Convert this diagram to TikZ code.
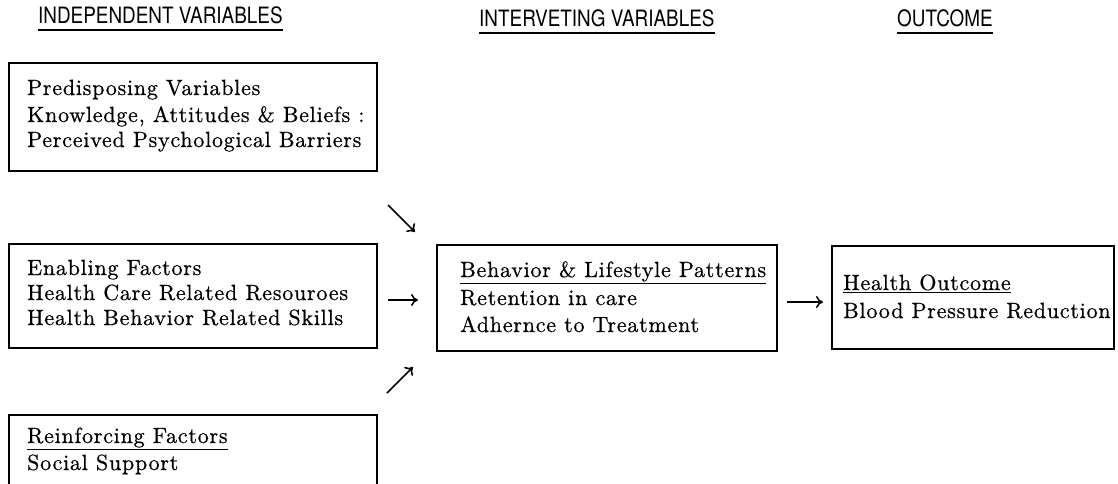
\documentclass[tikz,border=0pt]{standalone}
\usepackage{fontspec}
\usetikzlibrary{arrows.meta}
\newfontfamily\bodyfam{lmroman10-regular.otf}[LetterSpace=3.5,FakeBold=0.6]
\newfontfamily\headfam{TeX Gyre Heros}[FakeStretch=0.84]
\newcommand\bodyfnt{\bodyfam\fontsize{22}{25}\selectfont}
\newcommand\headfnt{\headfam\fontsize{22.5}{24}\selectfont}
\begin{document}
\begin{tikzpicture}[x=1pt,y=-1pt,
  box/.style={draw,line width=1.5pt,inner sep=0pt,anchor=north west},
  txt/.style={inner sep=0pt,anchor=base west,font=\bodyfnt},
  head/.style={inner sep=0pt,anchor=base west,font=\headfnt},
  hline/.style={line width=1.8pt},
  arr/.style={line width=1.6pt,-{Computer Modern Rightarrow[length=7pt,width=12pt]}}]
\useasboundingbox (0,0) rectangle (1118,483);
% headers
\node[head] (h1) at (38,23) {INDEPENDENT VARIABLES};
\node[head] (h2) at (479,26) {INTERVETING VARIABLES};
\node[head] (h3) at (897,26) {OUTCOME};
\foreach \h in {h1,h2,h3}{
  \draw[hline] ([yshift=-7pt]\h.base west) -- ([yshift=-7pt]\h.base east);
}
% boxes
\node[box,minimum width=368pt,minimum height=108pt] (b1) at (8,62) {};
\node[box,minimum width=368pt,minimum height=104pt] (b2) at (8,243) {};
\node[box,minimum width=368pt,minimum height=90pt] (b3) at (8,414) {};
\node[box,minimum width=340pt,minimum height=106pt] (b4) at (436,244) {};
\node[box,minimum width=282pt,minimum height=103pt] (b5) at (831,245) {};
% texts
\node[txt] (t11) at (27,95) {Predisposing Variables};
\node[txt] (t12) at (27,122) {Knowledge, Attitudes \& Beliefs :};
\node[txt] (t13) at (27,147) {Perceived Psychological Barriers};
\node[txt] (t21) at (27,275) {Enabling Factors};
\node[txt] (t22) at (27,300) {Health Care Related Resouroes};
\node[txt] (t23) at (27,325) {Health Behavior Related Skills};
\node[txt] (t31) at (27,443) {\underline{Reinforcing Factors}};
\node[txt] (t32) at (27,470) {Social Support};
\node[txt] (t41) at (460,277) {\underline{Behavior \& Lifestyle Patterns}};
\node[txt] (t42) at (460,305) {Retention in care};
\node[txt] (t43) at (460,332) {Adhernce to Treatment};
\node[txt] (t51) at (843,290) {\underline{Health Outcome}};
\node[txt] (t52) at (843,318) {Blood Pressure Reduction};
% arrows
\coordinate (a1s) at (388,205); \coordinate (a1e) at (415,232);
\coordinate (a2s) at (388,300); \coordinate (a2e) at (418,300);
\coordinate (a3s) at (387,393); \coordinate (a3e) at (413,367);
\coordinate (a4s) at (787,302); \coordinate (a4e) at (823,302);
\draw[arr] (a1s) -- (a1e);
\draw[arr] (a2s) -- (a2e);
\draw[arr] (a3s) -- (a3e);
\draw[arr] (a4s) -- (a4e);
\end{tikzpicture}
\end{document}
